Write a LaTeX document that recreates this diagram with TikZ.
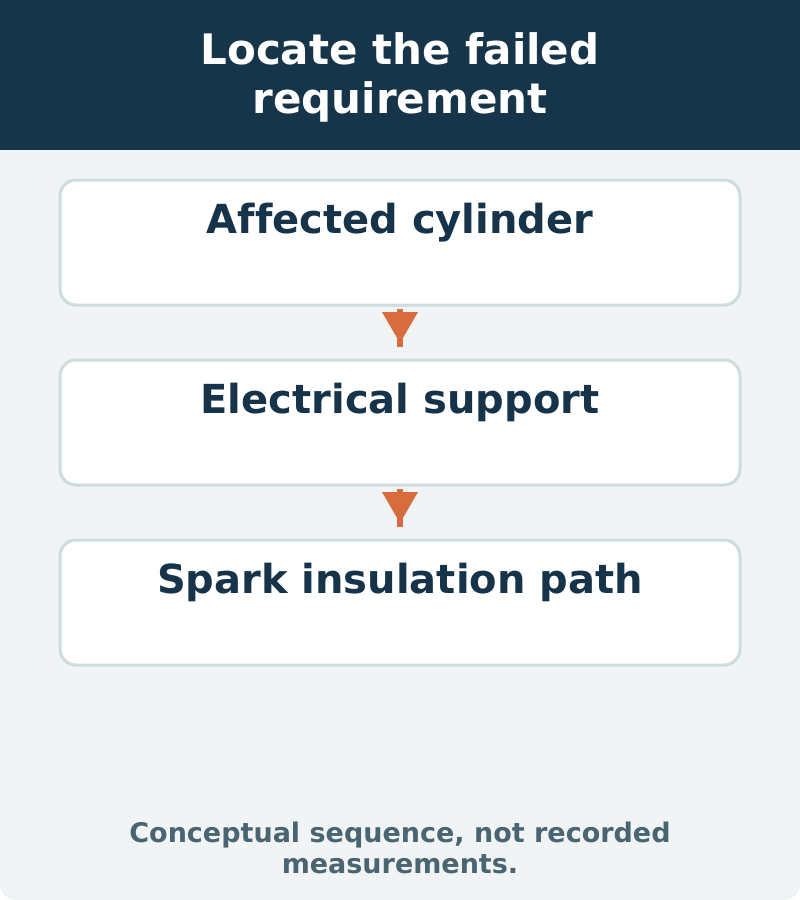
\documentclass[tikz,border=0pt]{standalone}
\usepackage{fontspec}
\setmainfont{DejaVu Sans}[Ligatures=NoCommon]
\definecolor{headbg}{HTML}{16344A}
\definecolor{cardbg}{HTML}{F0F4F5}
\definecolor{boxline}{HTML}{CFDCDC}
\definecolor{titlecol}{HTML}{16334A}
\definecolor{arrowcol}{HTML}{D96C3F}
\definecolor{footcol}{HTML}{4A6572}
\begin{document}
\begin{tikzpicture}[x=1pt,y=-1pt,
  stepbox/.style={draw=boxline, line width=3pt, fill=white, rounded corners=16pt},
  steplabel/.style={font=\bfseries\fontsize{40}{48}\selectfont, text=titlecol, anchor=base, inner sep=0pt},
  headtext/.style={font=\bfseries\fontsize{42}{49}\selectfont, text=white, anchor=base, inner sep=0pt},
  foottext/.style={font=\bfseries\fontsize{27}{31}\selectfont, text=footcol, anchor=base, inner sep=0pt},
  flowarrow/.style={draw=arrowcol, line width=6pt},
  arrowhead/.style={fill=arrowcol, draw=none}]
\useasboundingbox (0,0) rectangle (800,900);
\fill[white] (0,0) rectangle (800,900);
\fill[cardbg, rounded corners=16pt] (0,0) rectangle (800,900);
\fill[headbg] (0,0) rectangle (800,150);
\node[headtext] (title1) at (400,64) {Locate the failed};
\node[headtext] (title2) at (400,113) {requirement};
% boxes
\draw[stepbox] (60,180) rectangle (740,305);
\node[steplabel] (b1) at (400,233) {Affected cylinder};
\draw[stepbox] (60,360) rectangle (740,485);
\node[steplabel] (b2) at (400,413) {Electrical support};
\draw[stepbox] (60,540) rectangle (740,665);
\node[steplabel] (b3) at (400,593) {Spark insulation path};
\coordinate (a1s) at (400,309); \coordinate (a1e) at (400,347);
\coordinate (a2s) at (400,489); \coordinate (a2e) at (400,527);
\draw[flowarrow] (a1s) -- (a1e);
\fill[arrowhead] (382,312) -- (418,312) -- (400,343) -- cycle;
\draw[flowarrow] (a2s) -- (a2e);
\fill[arrowhead] (382,492) -- (418,492) -- (400,523) -- cycle;
\node[foottext] (foot1) at (400,842) {Conceptual sequence, not recorded};
\node[foottext] (foot2) at (400,873) {measurements.};
\end{tikzpicture}
\end{document}
